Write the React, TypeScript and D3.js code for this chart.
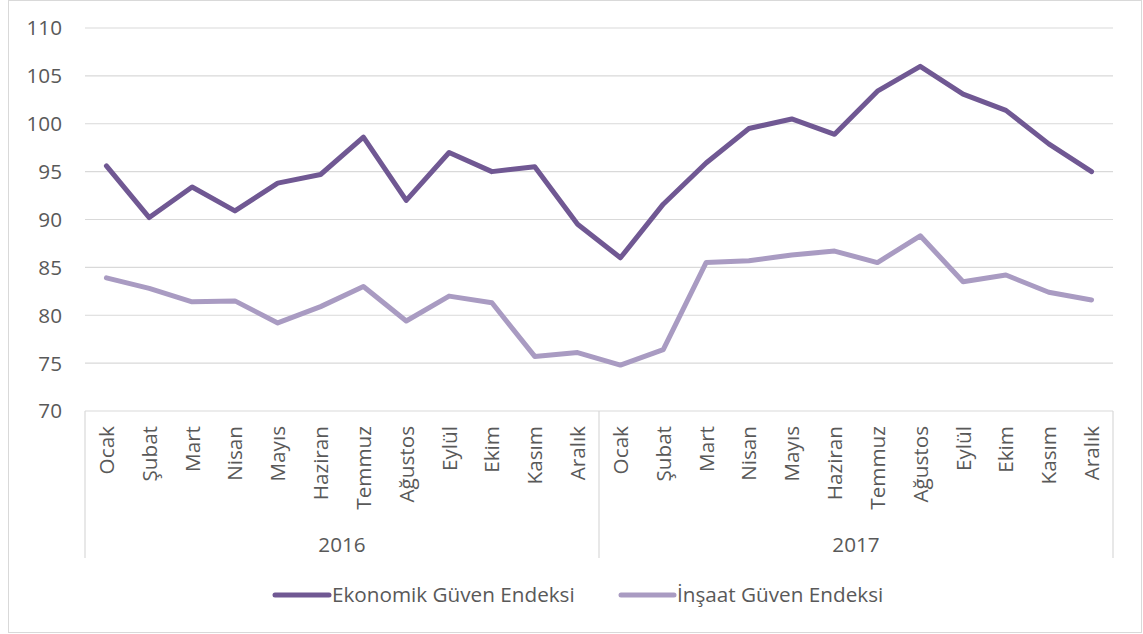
import React from "react";
import * as d3 from "d3";

const months = ["Ocak", "Şubat", "Mart", "Nisan", "Mayıs", "Haziran", "Temmuz", "Ağustos", "Eylül", "Ekim", "Kasım", "Aralık"];
const years = ["2016", "2017"];
const ekonomik = [95.6, 90.2, 93.4, 90.9, 93.8, 94.7, 98.6, 92.0, 97.0, 95.0, 95.5, 89.5, 86.0, 91.6, 95.9, 99.5, 100.5, 98.9, 103.4, 106.0, 103.1, 101.4, 97.9, 95.0];
const insaat = [83.9, 82.8, 81.4, 81.5, 79.2, 80.9, 83.0, 79.4, 82.0, 81.3, 75.7, 76.1, 74.8, 76.4, 85.5, 85.7, 86.3, 86.7, 85.5, 88.3, 83.5, 84.2, 82.4, 81.6];
const yTicks = [70, 75, 80, 85, 90, 95, 100, 105, 110];
const seriesNames = ["Ekonomik Güven Endeksi", "İnşaat Güven Endeksi"];

const COLORS = ["#705893", "#a99bc2"];
const FONT = "'Open Sans', sans-serif";
const TEXT = "#595959";
const GRID = "#d9d9d9";
const FS = 20.7;

export default function App() {
  const W = 1143, H = 634;
  const left = 85, right = 1113, top = 28, bottom = 411;
  const cats = years.flatMap((y) => months.map((m) => `${y}-${m}`));
  const x = d3.scaleBand<string>().domain(cats).range([left, right]);
  const y = d3.scaleLinear().domain([70, 110]).range([bottom, top]);
  const line = d3
    .line<number>()
    .x((_, i) => (x(cats[i]) as number) + x.bandwidth() / 2)
    .y((d) => y(d));
  const series = [ekonomik, insaat];
  const groupW = x.bandwidth() * months.length;

  return (
    <svg width={W} height={H} style={{ position: "absolute", left: 0, top: 0, background: "#fff" }} fontFamily={FONT}>
      <rect x={8.5} y={0.5} width={1133} height={632} fill="#fff" stroke="#d9d9d9" />
      {yTicks.map((t) => (
        <g key={t}>
          {t !== 70 && <line x1={left} x2={right} y1={y(t)} y2={y(t)} stroke={GRID} strokeWidth={1.2} />}
          <text x={62} y={y(t)} dy="0.36em" textAnchor="end" fontSize={FS} fill={TEXT}>
            {t}
          </text>
        </g>
      ))}
      {/* category axis */}
      <line x1={left} x2={right} y1={bottom} y2={bottom} stroke={GRID} strokeWidth={1.2} />
      {[0, 1, 2].map((k) => {
        const xx = left + k * groupW;
        return <line key={k} x1={xx} x2={xx} y1={bottom} y2={558} stroke={GRID} strokeWidth={1.2} />;
      })}
      {cats.map((c, i) => {
        const cx = (x(c) as number) + x.bandwidth() / 2;
        return (
          <text
            key={c}
            transform={`translate(${cx + 7.5},${bottom + 15}) rotate(-90)`}
            textAnchor="end"
            fontSize={FS}
            fill={TEXT}
          >
            {months[i % 12]}
          </text>
        );
      })}
      {years.map((yr, k) => (
        <text key={yr} x={left + groupW * (k + 0.5)} y={545} dy="0.36em" textAnchor="middle" fontSize={FS} fill={TEXT}>
          {yr}
        </text>
      ))}
      {series.map((s, k) => (
        <path key={k} d={line(s) || ""} fill="none" stroke={COLORS[k]} strokeWidth={5} strokeLinejoin="round" strokeLinecap="round" />
      ))}
      {/* legend */}
      {[
        { x0: 275, x1: 329, tx: 332 },
        { x0: 621, x1: 674, tx: 677 },
      ].map((l, k) => (
        <g key={k}>
          <line x1={l.x0} x2={l.x1} y1={595} y2={595} stroke={COLORS[k]} strokeWidth={5} strokeLinecap="round" />
          <text x={l.tx} y={595} dy="0.36em" fontSize={FS} fill={TEXT}>
            {seriesNames[k]}
          </text>
        </g>
      ))}
    </svg>
  );
}
